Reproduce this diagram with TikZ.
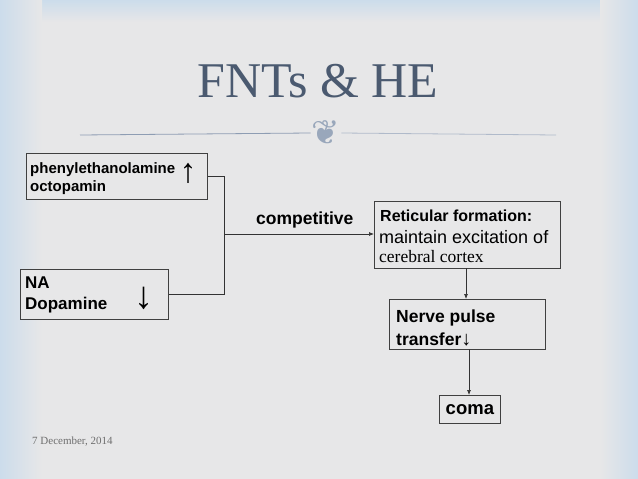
\documentclass[tikz,border=0pt]{standalone}
\usepackage{fontspec}
\setmainfont{Liberation Serif}
\setsansfont{Liberation Sans}
\newfontfamily\symfont{DejaVu Sans}
\usetikzlibrary{arrows.meta}
\definecolor{bgmid}{HTML}{E7E7E8}
\definecolor{bgblue}{HTML}{CCDCEB}
\definecolor{titlecol}{HTML}{4B5A70}
\definecolor{rulecol}{HTML}{8E9DB3}
\definecolor{datecol}{HTML}{6E6E6E}
\tikzset{
  box/.style={draw=black!75, line width=0.8pt, fill=bgmid, inner sep=0pt, anchor=north west},
  conn/.style={draw=black!80, line width=0.7pt},
  arr/.style={conn, -{Latex[length=5pt,width=4pt]}},
  lbl/.style={anchor=base west, inner sep=0pt},
}
\begin{document}
\begin{tikzpicture}[x=1pt,y=-1pt]
\useasboundingbox (0,0) rectangle (638,479);
% background
\fill[bgmid] (0,0) rectangle (638,479);
\shade[top color=bgblue, bottom color=bgmid] (0,0) rectangle (638,22);
\shade[left color=bgblue, right color=bgmid] (0,0) rectangle (42,479);
\shade[left color=bgmid, right color=bgblue] (600,0) rectangle (638,479);

% title
\node[text=titlecol, font=\rmfamily\fontsize{50}{54}\selectfont, anchor=base] (title) at (318,97) {FNTs \& HE};
\coordinate (rl) at (80,135);
\coordinate (rr) at (556,135);
\node[text=rulecol!90, font=\symfont\fontsize{34}{34}\selectfont, inner sep=1pt] (orn) at (326,133) {❦};
\draw[rulecol, line width=0.8pt] (rl) -- (orn.west);
\draw[rulecol!70, line width=0.8pt] (orn.east) -- (rr);

% box 1
\node[box, minimum width=181pt, minimum height=46pt] (b1) at (26,153) {};
\node[lbl, font=\sffamily\bfseries\fontsize{15}{17}\selectfont] (t1a) at (30,173) {phenylethanolamine};
\node[lbl, font=\sffamily\bfseries\fontsize{15}{17}\selectfont] (t1b) at (30,191) {octopamin};
\node[font=\sffamily\fontsize{34}{34}\selectfont, inner sep=0pt] (u1) at (188,173) {↑};

% box 2
\node[box, minimum width=148pt, minimum height=50pt] (b2) at (20,269) {};
\node[lbl, font=\sffamily\bfseries\fontsize{17}{20}\selectfont] (t2a) at (25,288) {NA};
\node[lbl, font=\sffamily\bfseries\fontsize{17}{20}\selectfont] (t2b) at (25,309) {Dopamine};
\node[font=\sffamily\fontsize{38}{38}\selectfont, inner sep=0pt] (d2) at (144,298) {↓};

% box 3
\node[box, minimum width=186pt, minimum height=67pt] (b3) at (374,201) {};
\node[lbl, font=\sffamily\bfseries\fontsize{16}{18}\selectfont] (t3a) at (380,221) {Reticular formation:};
\node[lbl, font=\sffamily\fontsize{18}{20}\selectfont] (t3b) at (379,243) {maintain excitation of};
\node[lbl, font=\rmfamily\fontsize{17.5}{20}\selectfont] (t3c) at (379,262) {cerebral cortex};

% box 4
\node[box, minimum width=156pt, minimum height=50pt] (b4) at (389,299) {};
\node[lbl, font=\sffamily\bfseries\fontsize{17.5}{20}\selectfont] (t4a) at (396,322) {Nerve pulse};
\node[lbl, font=\sffamily\bfseries\fontsize{17.5}{20}\selectfont] (t4b) at (396,345) {transfer{\fontsize{20}{20}\selectfont\mdseries↓}};

% box 5
\node[box, minimum width=61pt, minimum height=28pt] (b5) at (439,395) {};
\node[font=\sffamily\bfseries\fontsize{18.5}{20}\selectfont, inner sep=0pt] (t5) at (b5.center) {coma};

% connectors
\coordinate (j1) at (224,176);
\coordinate (j2) at (224,294);
\coordinate (jm) at (224,234);
\draw[conn] (b1.east |- j1) -- (j1) -- (j2) -- (b2.east |- j2);
\draw[arr] (jm) -- (b3.west |- jm);
\node[lbl, font=\sffamily\bfseries\fontsize{17.5}{20}\selectfont] (comp) at (256,224) {competitive};
\coordinate (c3) at (466,268);
\draw[arr] (c3) -- (c3 |- b4.north);
\coordinate (c4) at (469,349);
\draw[arr] (c4) -- (c4 |- b5.north);

% date
\node[lbl, text=datecol, font=\rmfamily\fontsize{11}{12}\selectfont] (date) at (32,444) {7 December, 2014};
\end{tikzpicture}
\end{document}
